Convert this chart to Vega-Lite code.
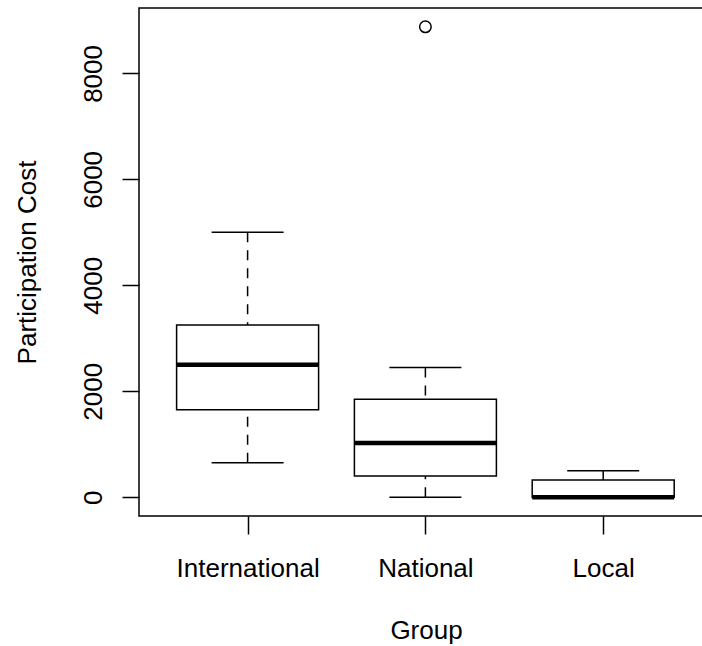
{
  "$schema": "https://vega.github.io/schema/vega-lite/v6.json",
  "autosize": "none",
  "padding": {"left": 139, "top": 8, "right": 0, "bottom": 130},
  "width": 564,
  "height": 508,
  "background": "white",
  "config": {
    "view": {"stroke": "black", "strokeWidth": 1.5},
    "font": "Liberation Sans",
    "axis": {"grid": false, "domain": false, "tickColor": "black", "tickWidth": 1.5, "labelColor": "black", "titleColor": "black", "labelFontSize": 26, "titleFontSize": 26, "titleFontWeight": "normal", "labelFont": "Liberation Sans", "titleFont": "Liberation Sans"}
  },
  "datasets": {
    "boxes": [
      {"group": "International", "lower": 650, "q1": 1650, "median": 2500, "q3": 3250, "upper": 5000},
      {"group": "National", "lower": 0, "q1": 400, "median": 1025, "q3": 1850, "upper": 2450},
      {"group": "Local", "lower": 0, "q1": 0, "median": 0, "q3": 325, "upper": 500}
    ],
    "outliers": [
      {"group": "National", "cost": 8880}
    ]
  },
  "encoding": {
    "x": {
      "field": "group", "type": "nominal",
      "sort": ["International", "National", "Local"],
      "scale": {"type": "point", "padding": 0, "range": [108.6, 464.2]},
      "axis": {"title": "Group", "labelAngle": 0, "tickSize": 18, "labelPadding": 42, "labelBaseline": "alphabetic", "titleX": 287, "titleY": 122, "titleAlign": "center", "titleBaseline": "alphabetic", "titlePadding": 0}
    }
  },
  "layer": [
    {
      "data": {"name": "boxes"},
      "mark": {"type": "rule", "color": "black", "strokeWidth": 1.5, "strokeDash": [10, 8]},
      "encoding": {
        "y": {"field": "lower", "type": "quantitative", "scale": {"domain": [-355, 9235], "nice": false, "zero": false},
          "axis": {"title": "Participation Cost", "values": [0, 2000, 4000, 6000, 8000], "format": "d", "tickSize": 17, "labelAngle": -90, "labelAlign": "center", "labelBaseline": "alphabetic", "labelPadding": 21, "titleAngle": -90, "titleX": -104, "titleY": 254, "titleAlign": "center", "titleBaseline": "alphabetic"}},
        "y2": {"field": "q1"}
      }
    },
    {
      "data": {"name": "boxes"},
      "mark": {"type": "rule", "color": "black", "strokeWidth": 1.5, "strokeDash": [10, 8]},
      "encoding": {
        "y": {"field": "upper", "type": "quantitative"},
        "y2": {"field": "q3"}
      }
    },
    {
      "data": {"name": "boxes"},
      "mark": {"type": "tick", "color": "black", "size": 72, "thickness": 1.5, "opacity": 1},
      "encoding": {"y": {"field": "lower", "type": "quantitative"}}
    },
    {
      "data": {"name": "boxes"},
      "mark": {"type": "tick", "color": "black", "size": 72, "thickness": 1.5, "opacity": 1},
      "encoding": {"y": {"field": "upper", "type": "quantitative"}}
    },
    {
      "data": {"name": "boxes"},
      "mark": {"type": "bar", "size": 142, "fill": "white", "stroke": "black", "strokeWidth": 1.5},
      "encoding": {
        "y": {"field": "q1", "type": "quantitative"},
        "y2": {"field": "q3"}
      }
    },
    {
      "data": {"name": "boxes"},
      "mark": {"type": "tick", "color": "black", "size": 142, "thickness": 4.5, "opacity": 1},
      "encoding": {"y": {"field": "median", "type": "quantitative"}}
    },
    {
      "data": {"name": "outliers"},
      "mark": {"type": "point", "shape": "circle", "filled": false, "size": 133, "stroke": "black", "strokeWidth": 1.5, "opacity": 1},
      "encoding": {"y": {"field": "cost", "type": "quantitative"}}
    }
  ]
}
